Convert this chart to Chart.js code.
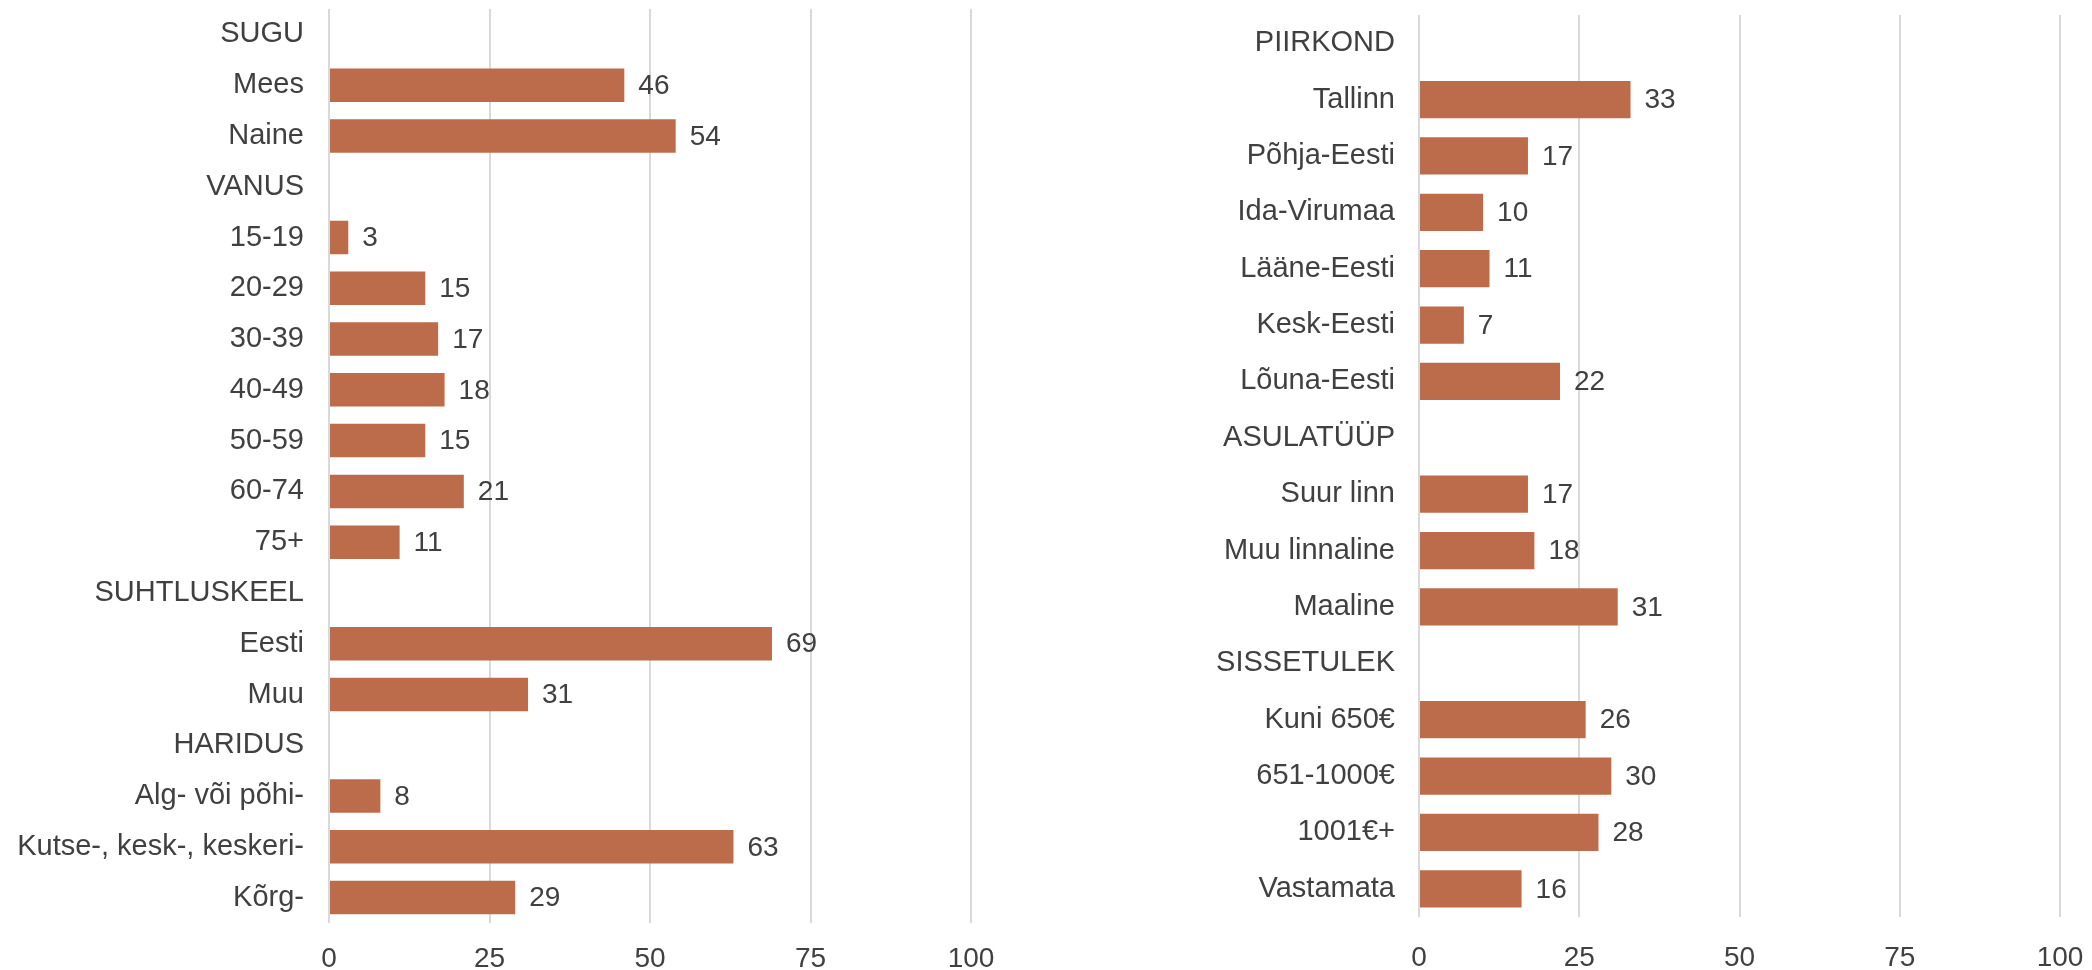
<!DOCTYPE html>
<html lang="et">
<head>
<meta charset="utf-8">
<title>Vastajate profiil</title>
<script src="https://cdn.jsdelivr.net/npm/chart.js@4/dist/chart.umd.min.js"></script>
<style>
  html, body { margin: 0; padding: 0; background: #ffffff; }
  #wrap { position: relative; width: 2092px; height: 970px; overflow: hidden; }
  canvas { position: absolute; top: 0; }
  #leftChart { left: 0; }
  #rightChart { left: 1046px; }
</style>
</head>
<body>
<div id="wrap">
  <canvas id="leftChart" width="1046" height="970"></canvas>
  <canvas id="rightChart" width="1046" height="970"></canvas>
</div>
<script>
// Left panel: group headings have no value
const leftCategories = [
  "SUGU", "Mees", "Naine",
  "VANUS", "15-19", "20-29", "30-39", "40-49", "50-59", "60-74", "75+",
  "SUHTLUSKEEL", "Eesti", "Muu",
  "HARIDUS", "Alg- või põhi-", "Kutse-, kesk-, keskeri-", "Kõrg-",
];
const leftValues = [
  null, 46, 54,
  null, 3, 15, 17, 18, 15, 21, 11,
  null, 69, 31,
  null, 8, 63, 29,
];

// Right panel
const rightCategories = [
  "PIIRKOND", "Tallinn", "Põhja-Eesti", "Ida-Virumaa", "Lääne-Eesti", "Kesk-Eesti", "Lõuna-Eesti",
  "ASULATÜÜP", "Suur linn", "Muu linnaline", "Maaline",
  "SISSETULEK", "Kuni 650€", "651-1000€", "1001€+", "Vastamata",
];
const rightValues = [
  null, 33, 17, 10, 11, 7, 22,
  null, 17, 18, 31,
  null, 26, 30, 28, 16,
];

const xTicks = [0, 25, 50, 75, 100];

const barColor = "#bc6c4a";
const textColor = "#404040";
const gridColor = "#d9d9d9";
const fontFamily = "'Liberation Sans', Arial, sans-serif";

// value labels next to each bar
const valueLabels = {
  id: "valueLabels",
  afterDatasetsDraw(chart) {
    const ctx = chart.ctx;
    const meta = chart.getDatasetMeta(0);
    const data = chart.data.datasets[0].data;
    ctx.save();
    ctx.font = "28px " + fontFamily;
    ctx.fillStyle = textColor;
    ctx.textAlign = "left";
    ctx.textBaseline = "middle";
    meta.data.forEach((bar, i) => {
      if (data[i] === null) return;
      ctx.fillText(String(data[i]), bar.x + 14, bar.y + 1);
    });
    ctx.restore();
  },
};

function makeChart(canvasId, labels, values, opts) {
  const ctx = document.getElementById(canvasId).getContext("2d");
  return new Chart(ctx, {
    type: "bar",
    data: {
      labels: labels,
      datasets: [
        {
          data: values,
          backgroundColor: barColor,
          borderWidth: 0,
          barPercentage: 0.66,
          categoryPercentage: 1,
        },
      ],
    },
    options: {
      indexAxis: "y",
      responsive: false,
      animation: false,
      devicePixelRatio: 1,
      layout: { padding: { top: opts.top, right: opts.right, bottom: 0, left: 0 } },
      plugins: { legend: { display: false }, tooltip: { enabled: false } },
      scales: {
        x: {
          min: 0,
          max: 100,
          afterBuildTicks: (scale) => {
            scale.ticks = xTicks.map((v) => ({ value: v }));
          },
          grid: { color: gridColor, lineWidth: 2, drawTicks: false },
          border: { display: false },
          ticks: {
            color: textColor,
            font: { family: fontFamily, size: 28 },
            padding: opts.tickGap,
          },
          afterFit: (scale) => {
            scale.height = opts.xHeight;
            scale.paddingLeft = 0;
            scale.paddingRight = 0;
          },
        },
        y: {
          grid: { display: false, drawTicks: false },
          border: { display: false },
          ticks: {
            color: textColor,
            font: { family: fontFamily, size: 29 },
            padding: opts.labelGap,
            autoSkip: false,
          },
          afterFit: (scale) => {
            scale.width = opts.yWidth;
            scale.paddingTop = 0;
            scale.paddingBottom = 0;
          },
        },
      },
    },
    plugins: [valueLabels],
  });
}

makeChart("leftChart", leftCategories, leftValues, {
  top: 9, right: 75, xHeight: 47, yWidth: 329, labelGap: 25, tickGap: 19,
});
makeChart("rightChart", rightCategories, rightValues, {
  top: 15, right: 32, xHeight: 53, yWidth: 373, labelGap: 24, tickGap: 24,
});
</script>
</body>
</html>
